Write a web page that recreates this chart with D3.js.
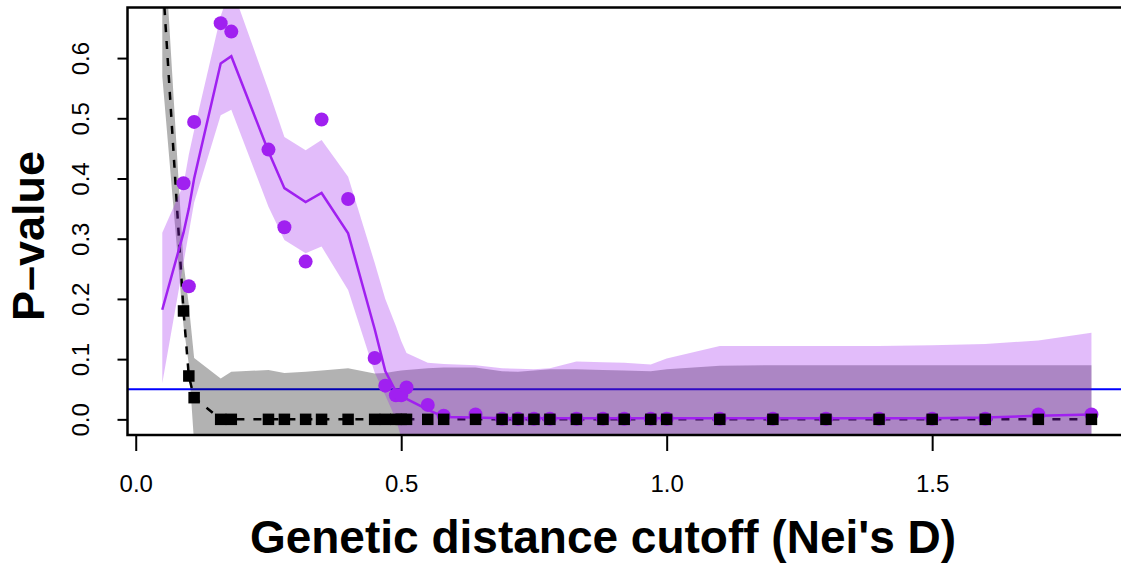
<!DOCTYPE html>
<html>
<head>
<meta charset="utf-8">
<script src="https://d3js.org/d3.v7.min.js"></script>
<style>
  body { margin: 0; background: #fff; }
  text { font-family: "Liberation Sans", Arial, Helvetica, sans-serif; }
</style>
</head>
<body>
<script>
// Nei's D cutoffs
var cutoffs = [0.05, 0.09, 0.10, 0.11, 0.16, 0.18, 0.25, 0.28, 0.32, 0.35, 0.40, 0.45,
  0.47, 0.49, 0.50, 0.51, 0.55, 0.58, 0.64, 0.69, 0.72, 0.75, 0.78, 0.83, 0.88, 0.92,
  0.97, 1.00, 1.10, 1.20, 1.30, 1.40, 1.50, 1.60, 1.70, 1.80];

// purple series: raw p-values, fitted line and band
var purpleObs = [null, 0.392, 0.221, 0.494, 0.658, 0.644, 0.448, 0.319, 0.262, 0.498, 0.366, 0.102,
  0.056, 0.040, 0.040, 0.053, 0.024, 0.006, 0.008, 0.001, 0.001, 0.001, 0.001, 0.001, 0.001, 0.001,
  0.001, 0.001, 0.001, 0.001, 0.001, 0.001, 0.001, 0.001, 0.008, 0.008];
var purpleFit = [0.182, 0.31, 0.35, 0.40, 0.591, 0.603, 0.445, 0.384, 0.361, 0.376, 0.309, 0.15,
  0.08, 0.046, 0.040, 0.034, 0.016, 0.004, 0.003, 0.002, 0.002, 0.002, 0.002, 0.002, 0.002, 0.002,
  0.002, 0.002, 0.002, 0.002, 0.002, 0.002, 0.002, 0.003, 0.006, 0.008];
var purpleHi = [0.31, 0.39, 0.44, 0.48, 0.67, 0.72, 0.547, 0.469, 0.447, 0.464, 0.403, 0.26,
  0.20, 0.155, 0.13, 0.11, 0.094, 0.092, 0.09, 0.085, 0.084, 0.083, 0.085, 0.096, 0.095, 0.094,
  0.091, 0.101, 0.122, 0.122, 0.122, 0.122, 0.123, 0.125, 0.131, 0.144];
var purpleLo = [0.06, 0.26, 0.31, 0.36, 0.505, 0.514, 0.353, 0.298, 0.276, 0.287, 0.215, 0.078,
  0.04, 0.0, -0.03, -0.05, -0.06, -0.06, -0.06, -0.06, -0.06, -0.06, -0.06, -0.06, -0.06, -0.06,
  -0.06, -0.06, -0.06, -0.06, -0.06, -0.06, -0.06, -0.06, -0.06, -0.06];

// black series: p-values and grey band
var blackObs = [0.741, 0.18, 0.072, 0.036, 0, 0, 0, 0, 0, 0, 0, 0,
  0, 0, 0, 0, 0, 0, 0, 0, 0, 0, 0, 0, 0, 0,
  0, 0, 0, 0, 0, 0, 0, 0, 0, 0];
var blackHi = [0.85, 0.26, 0.19, 0.102, 0.068, 0.079, 0.082, 0.077, 0.079, 0.081, 0.085, 0.076,
  0.077, 0.080, 0.081, 0.082, 0.085, 0.086, 0.086, 0.080, 0.079, 0.081, 0.083, 0.083, 0.082, 0.081,
  0.080, 0.083, 0.089, 0.090, 0.090, 0.090, 0.090, 0.090, 0.090, 0.090];
var blackLo = [0.57, 0.155, 0.091, -0.04, -0.08, -0.08, -0.08, -0.08, -0.08, -0.08, -0.08, -0.08,
  -0.08, -0.08, -0.08, -0.08, -0.08, -0.08, -0.08, -0.08, -0.08, -0.08, -0.08, -0.08, -0.08, -0.08,
  -0.08, -0.08, -0.08, -0.08, -0.08, -0.08, -0.08, -0.08, -0.08, -0.08];

var threshold = 0.05;
var xTicks = [0, 0.5, 1.0, 1.5];
var yTicks = [0, 0.1, 0.2, 0.3, 0.4, 0.5, 0.6];

var width = 1121, height = 565;
var padL = 127.5, padR = 1131, padT = 7.5, padB = 435;

var rows = cutoffs.map(function(c, i) {
  return { x: c, po: purpleObs[i], pf: purpleFit[i], phi: purpleHi[i], plo: purpleLo[i],
           bo: blackObs[i], bhi: blackHi[i], blo: blackLo[i] };
});

var x = d3.scaleLinear().domain([-0.0155, 1.8745]).range([padL, padR]);
var y = d3.scaleLinear().domain([-0.026, 0.684]).range([padB, padT]);

var svg = d3.select('body').append('svg')
  .attr('width', width)
  .attr('height', height);

svg.append('clipPath').attr('id', 'plotclip')
  .append('rect')
  .attr('x', padL).attr('y', padT)
  .attr('width', padR - padL).attr('height', padB - padT);

var plot = svg.append('g').attr('clip-path', 'url(#plotclip)');

// threshold line
plot.append('line')
  .attr('x1', padL).attr('x2', padR)
  .attr('y1', y(threshold)).attr('y2', y(threshold))
  .attr('stroke', '#0000ff').attr('stroke-width', 2);

// black dashed line
plot.append('path')
  .datum(rows)
  .attr('fill', 'none')
  .attr('stroke', '#000')
  .attr('stroke-width', 2.5)
  .attr('stroke-dasharray', '8,9')
  .attr('d', d3.line().x(function(d){return x(d.x)}).y(function(d){return y(d.bo)}));

// grey band
plot.append('path')
  .datum(rows)
  .attr('fill', 'rgba(0,0,0,0.3)')
  .attr('d', d3.area().x(function(d){return x(d.x)})
    .y0(function(d){return y(d.blo)}).y1(function(d){return y(d.bhi)}));

// purple band
plot.append('path')
  .datum(rows)
  .attr('fill', 'rgba(160,32,240,0.3)')
  .attr('d', d3.area().x(function(d){return x(d.x)})
    .y0(function(d){return y(d.plo)}).y1(function(d){return y(d.phi)}));

// purple fitted line
plot.append('path')
  .datum(rows)
  .attr('fill', 'none')
  .attr('stroke', '#a020f0')
  .attr('stroke-width', 2.5)
  .attr('d', d3.line().x(function(d){return x(d.x)}).y(function(d){return y(d.pf)}));

// purple points
plot.selectAll('circle.pp')
  .data(rows.filter(function(d){return d.po !== null}))
  .enter().append('circle')
  .attr('class', 'pp')
  .attr('cx', function(d){return x(d.x)})
  .attr('cy', function(d){return y(d.po)})
  .attr('r', 7)
  .attr('fill', '#a020f0');

// black squares
var sq = 11.5;
plot.selectAll('rect.bp')
  .data(rows)
  .enter().append('rect')
  .attr('class', 'bp')
  .attr('x', function(d){return x(d.x) - sq/2})
  .attr('y', function(d){return y(d.bo) - sq/2})
  .attr('width', sq).attr('height', sq)
  .attr('fill', '#000');

// box
svg.append('rect')
  .attr('x', padL).attr('y', padT)
  .attr('width', padR - padL).attr('height', padB - padT)
  .attr('fill', 'none').attr('stroke', '#000').attr('stroke-width', 2.5);

// axes
var xAxis = svg.append('g')
  .attr('transform', 'translate(0,' + padB + ')')
  .call(d3.axisBottom(x).tickValues(xTicks).tickSize(16).tickFormat(d3.format('.1f')));
xAxis.select('.domain').remove();
xAxis.selectAll('line').attr('stroke', '#000').attr('stroke-width', 2);
xAxis.selectAll('text')
  .attr('y', 57).attr('dy', 0)
  .attr('fill', '#000')
  .style('font-size', '24px');

var yAxis = svg.append('g')
  .attr('transform', 'translate(' + padL + ',0)')
  .call(d3.axisLeft(y).tickValues(yTicks).tickSize(10).tickFormat(d3.format('.1f')));
yAxis.select('.domain').remove();
yAxis.selectAll('line').attr('stroke', '#000').attr('stroke-width', 2);
yAxis.selectAll('text')
  .attr('x', 0).attr('dy', 0)
  .attr('text-anchor', 'middle')
  .attr('transform', 'translate(-39,0) rotate(-90)')
  .attr('fill', '#000')
  .style('font-size', '24px');

// axis titles
svg.append('text')
  .attr('x', 603)
  .attr('y', 553)
  .attr('text-anchor', 'middle')
  .style('font-size', '46px')
  .style('font-weight', 'bold')
  .text("Genetic distance cutoff (Nei's D)");

svg.append('text')
  .attr('transform', 'translate(44,236) rotate(-90)')
  .attr('text-anchor', 'middle')
  .style('font-size', '45px')
  .style('font-weight', 'bold')
  .text('P\u2013value');
</script>
</body>
</html>
